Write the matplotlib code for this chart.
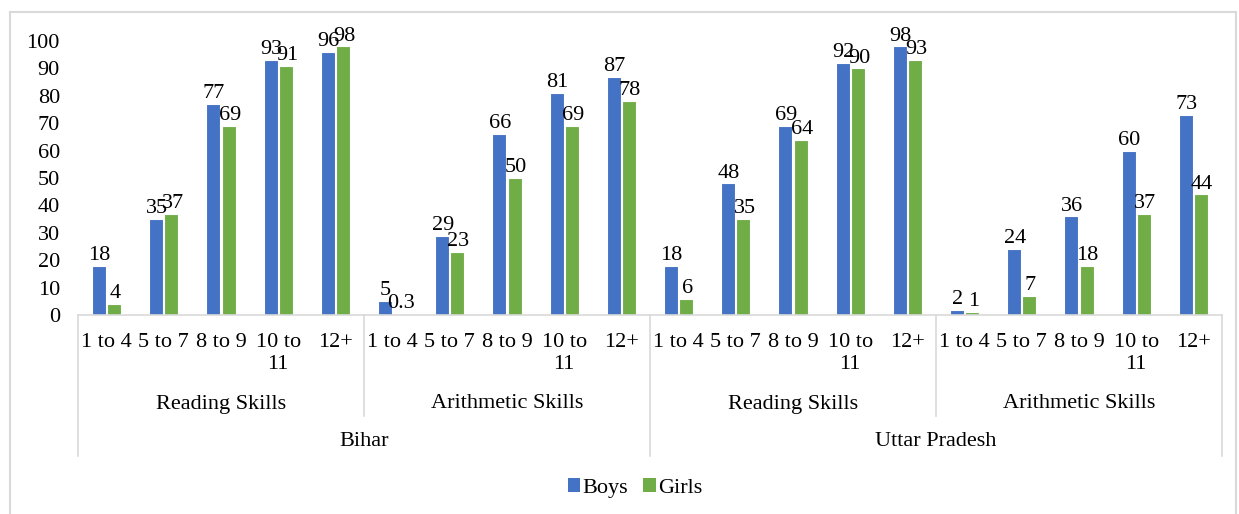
import matplotlib.pyplot as plt
import matplotlib.transforms as mtransforms
from matplotlib.patches import Patch
from matplotlib.lines import Line2D
import numpy as np

plt.rcParams['font.family'] = ['Liberation Serif', 'DejaVu Serif']

age_groups = ["1 to 4", "5 to 7", "8 to 9", "10 to\n11", "12+"]
skills = ["Reading Skills", "Arithmetic Skills"]
states = ["Bihar", "Uttar Pradesh"]

# Bihar reading, Bihar arithmetic, UP reading, UP arithmetic
boys = [18, 35, 77, 93, 96,
        5, 29, 66, 81, 87,
        18, 48, 69, 92, 98,
        2, 24, 36, 60, 73]
girls = [4, 37, 69, 91, 98,
         0.3, 23, 50, 69, 78,
         6, 35, 64, 90, 93,
         1, 7, 18, 37, 44]

BLUE = "#4472C4"
GREEN = "#70AD47"
GRID = "#D9D9D9"
FS = 16

W, H = 1239, 514
fig = plt.figure(figsize=(W / 100, H / 100), dpi=100)
x0, x1, y0, y1 = 78, 1222, 315, 41
ax = fig.add_axes([x0 / W, 1 - y0 / H, (x1 - x0) / W, (y0 - y1) / H])

n = len(boys)
x = np.arange(n) + 0.5
bw = 0.245
ax.bar(x - bw / 2 - 0.01, boys, bw, color=BLUE, edgecolor="white", linewidth=0.8)
ax.bar(x + bw / 2 + 0.01, girls, bw, color=GREEN, edgecolor="white", linewidth=0.8)

for xi, v in zip(x, boys):
    ax.text(xi - bw / 2, v + 0.3, f"{v:g}", ha="center", va="bottom", fontsize=FS)
for xi, v in zip(x, girls):
    ax.text(xi + bw / 2 + 0.03, v + 0.3, f"{v:g}", ha="center", va="bottom", fontsize=FS)

ax.set_xlim(0, n)
ax.set_ylim(0, 100)
ax.set_yticks(range(0, 101, 10))
ax.tick_params(axis="y", length=0, labelsize=FS, pad=13)
ax.set_xticks([])
for s in ["top", "right", "left"]:
    ax.spines[s].set_visible(False)
ax.spines["bottom"].set_color(GRID)
ax.spines["bottom"].set_linewidth(1.2)

# multi-level category axis
trans = mtransforms.blended_transform_factory(ax.transData, ax.transAxes)
ph = y0 - y1
def ay(py):
    return -(py - y0) / ph

for xi, lab in zip(x, age_groups * 4):
    ax.text(xi, ay(333), lab, transform=trans, ha="center", va="top",
            fontsize=FS, linespacing=1.2)

for k in range(4):
    ax.text(k * 5 + 2.5, ay(404), skills[k % 2], transform=trans,
            ha="center", va="center", fontsize=FS)
for k in range(2):
    ax.text(k * 10 + 5, ay(442), states[k], transform=trans,
            ha="center", va="center", fontsize=FS)

for xv in [0, 10, 20]:
    ax.add_line(Line2D([xv, xv], [0, ay(456)], transform=trans, color=GRID,
                       lw=1.2, clip_on=False))
for xv in [5, 15]:
    ax.add_line(Line2D([xv, xv], [0, ay(416)], transform=trans, color=GRID,
                       lw=1.2, clip_on=False))

handles = [Patch(facecolor=BLUE, label="Boys"), Patch(facecolor=GREEN, label="Girls")]
fig.legend(handles=handles, loc="center", bbox_to_anchor=(635 / W, 1 - 488 / H),
           ncol=2, frameon=False, fontsize=FS, handlelength=0.55, handleheight=0.55,
           handletextpad=0.1, columnspacing=0.7)

# chart border
fig.add_artist(Line2D([10 / W, 10 / W], [0, 1 - 12 / H], color=GRID, lw=1.5))
fig.add_artist(Line2D([10 / W, 1236 / W], [1 - 12 / H, 1 - 12 / H], color=GRID, lw=1.5))
fig.add_artist(Line2D([1236 / W, 1236 / W], [0, 1 - 12 / H], color=GRID, lw=1.5))

fig.savefig("out.png", dpi=100)
